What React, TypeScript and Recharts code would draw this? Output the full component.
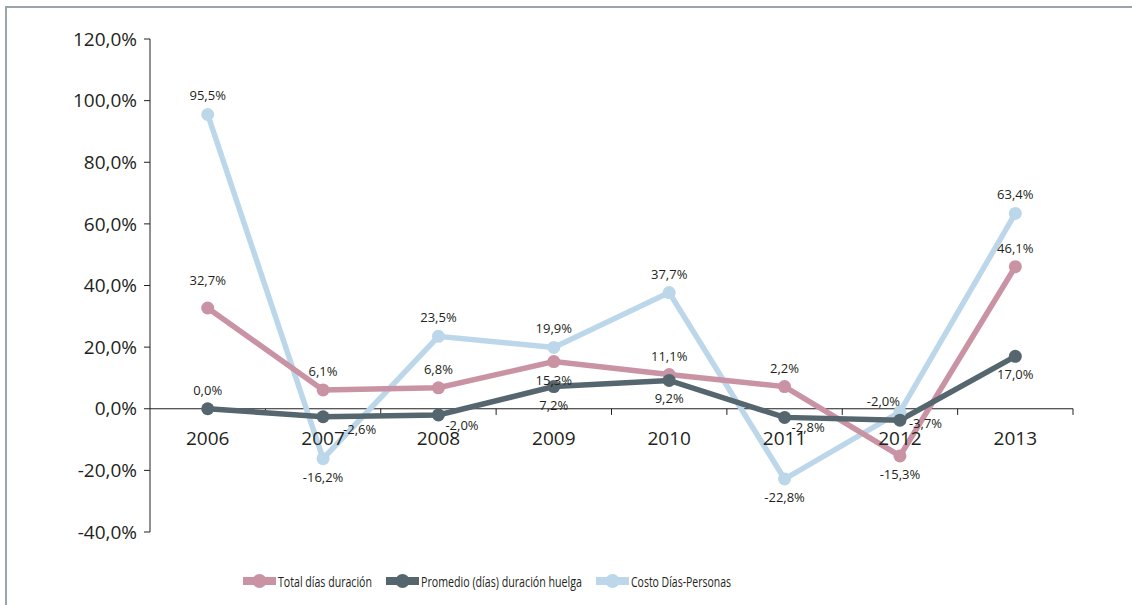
import React from 'react';
import { LineChart, Line, XAxis, YAxis, ReferenceLine, ReferenceDot, LabelList } from 'recharts';

// Variación anual 2006-2013
const years = ['2006', '2007', '2008', '2009', '2010', '2011', '2012', '2013'];

const totalDias = [32.7, 6.1, 6.8, 15.3, 11.1, 7.2, -15.3, 46.1];
const totalDiasLabels = ['32,7%', '6,1%', '6,8%', '15,3%', '11,1%', '2,2%', '-15,3%', '46,1%'];

const promedio = [0.0, -2.6, -2.0, 7.2, 9.2, -2.8, -3.7, 17.0];
const promedioLabels = ['0,0%', '-2,6%', '-2,0%', '7,2%', '9,2%', '-2,8%', '-3,7%', '17,0%'];

const costo = [95.5, -16.2, 23.5, 19.9, 37.7, -22.8, -1.0, 63.4];
const costoLabels = ['95,5%', '-16,2%', '23,5%', '19,9%', '37,7%', '-22,8%', '-2,0%', '63,4%'];

const yTicks = [-40, -20, 0, 20, 40, 60, 80, 100, 120];

// where each data label sits around its point
const totalPlace = ['aboveFar', 'above', 'above', 'below', 'above', 'above', 'below', 'above'];
const promedioPlace = ['above', 'rightFar', 'right', 'below', 'below', 'right', 'rightUp', 'below'];
const costoPlace = ['above', 'below', 'above', 'above', 'above', 'below', 'aboveLeft', 'above'];

const PINK = '#c993a3';
const DARK = '#55666e';
const BLUE = '#bdd7ea';
const INK = '#231f20';
const FONT = '"Open Sans", sans-serif';

const data = years.map((year, i) => ({
  x: i + 0.5,
  year,
  total: totalDias[i],
  promedio: promedio[i],
  costo: costo[i],
}));

const makeLabel = (texts: string[], places: string[]) => (props: any) => {
  const vb = props.viewBox || {};
  const px = props.x ?? vb.x;
  const py = props.y ?? vb.y;
  const i = props.index;
  if (px == null || py == null || i == null) return null;
  let dx = 0;
  let dy = -19;
  let anchor: 'middle' | 'start' | 'end' = 'middle';
  switch (places[i]) {
    case 'aboveFar':
      dy = -28;
      break;
    case 'below':
      dy = 18;
      break;
    case 'right':
      dx = 7;
      dy = 10;
      anchor = 'start';
      break;
    case 'rightUp':
      dx = 9;
      dy = 3;
      anchor = 'start';
      break;
    case 'rightFar':
      dx = 20;
      dy = 12;
      anchor = 'start';
      break;
    case 'aboveLeft':
      dx = 0;
      dy = -11;
      anchor = 'end';
      break;
  }
  return (
    <text
      x={px + dx}
      y={py + dy}
      textAnchor={anchor}
      dominantBaseline="central"
      fontSize={13}
      fontFamily={FONT}
      fill={INK}
    >
      {texts[i]}
    </text>
  );
};

const fmtPct = (v: number) => v.toFixed(1).replace('.', ',') + '%';

const legendItems = [
  { name: 'Total días duración', color: PINK, width: 94 },
  { name: 'Promedio (días) duración huelga', color: DARK, width: 161 },
  { name: 'Costo Días-Personas', color: BLUE, width: 100 },
];

const ChartLegend: React.FC = () => (
  <div style={{ position: 'absolute', left: 243, top: 568, display: 'flex', gap: 13 }}>
    {legendItems.map((item) => (
      <svg key={item.name} width={36 + item.width} height={26} style={{ overflow: 'visible' }}>
        <rect x={0} y={9} width={33} height={8} fill={item.color} />
        <circle cx={16.5} cy={13} r={7} fill={item.color} />
        <text
          x={35}
          y={13}
          dominantBaseline="central"
          fontSize={15}
          fontFamily={'"Liberation Sans Narrow", "Open Sans", sans-serif'}
          fill={INK}
          textLength={item.width}
          lengthAdjust="spacingAndGlyphs"
        >
          {item.name}
        </text>
      </svg>
    ))}
  </div>
);

const App: React.FC = () => {
  return (
    <div style={{ position: 'absolute', left: 0, top: 0, width: 1132, height: 605, background: '#fff', overflow: 'hidden' }}>
      <div
        style={{
          position: 'absolute',
          left: 5,
          top: 6,
          width: 1140,
          height: 620,
          borderTop: '2px solid #9aa6ab',
          borderLeft: '2px solid #9aa6ab',
        }}
      />
      <LineChart width={1132} height={605} data={data} margin={{ top: 39, right: 59, bottom: 73, left: 0 }}>
        <XAxis type="number" dataKey="x" domain={[0, 8]} hide />
        <YAxis
          type="number"
          domain={[-40, 120]}
          ticks={yTicks}
          interval={0}
          width={150}
          tickFormatter={fmtPct}
          axisLine={{ stroke: INK, strokeWidth: 1 }}
          tickLine={{ stroke: INK, strokeWidth: 1 }}
          tickSize={6}
          tickMargin={7}
          tick={{ fontSize: 19, fill: INK, fontFamily: FONT }}
        />
        <ReferenceLine y={0} stroke={INK} strokeWidth={1} />
        {years.map((_, i) => (
          <ReferenceLine
            key={'tick' + i}
            segment={[
              { x: i + 1, y: 0 },
              { x: i + 1, y: -2 },
            ]}
            stroke={INK}
            strokeWidth={1}
          />
        ))}
        {years.map((year, i) => (
          <ReferenceDot
            key={'year' + year}
            x={i + 0.5}
            y={0}
            r={0}
            shape={(p: any) => (
              <text
                x={p.cx}
                y={p.cy + 29}
                textAnchor="middle"
                dominantBaseline="central"
                fontSize={19}
                fontFamily={FONT}
                fill={INK}
              >
                {year}
              </text>
            )}
          />
        ))}
        <Line
          dataKey="costo"
          name="Costo Días-Personas"
          stroke={BLUE}
          strokeWidth={5.5}
          dot={{ r: 6.5, fill: BLUE, stroke: BLUE, strokeWidth: 0 }}
          activeDot={false}
          isAnimationActive={false}
        >
          <LabelList dataKey="costo" content={makeLabel(costoLabels, costoPlace)} />
        </Line>
        <Line
          dataKey="total"
          name="Total días duración"
          stroke={PINK}
          strokeWidth={5.5}
          dot={{ r: 6.5, fill: PINK, stroke: PINK, strokeWidth: 0 }}
          activeDot={false}
          isAnimationActive={false}
        >
          <LabelList dataKey="total" content={makeLabel(totalDiasLabels, totalPlace)} />
        </Line>
        <Line
          dataKey="promedio"
          name="Promedio (días) duración huelga"
          stroke={DARK}
          strokeWidth={5.5}
          dot={{ r: 6.5, fill: DARK, stroke: DARK, strokeWidth: 0 }}
          activeDot={false}
          isAnimationActive={false}
        >
          <LabelList dataKey="promedio" content={makeLabel(promedioLabels, promedioPlace)} />
        </Line>
      </LineChart>
      <ChartLegend />
    </div>
  );
};

export default App;
